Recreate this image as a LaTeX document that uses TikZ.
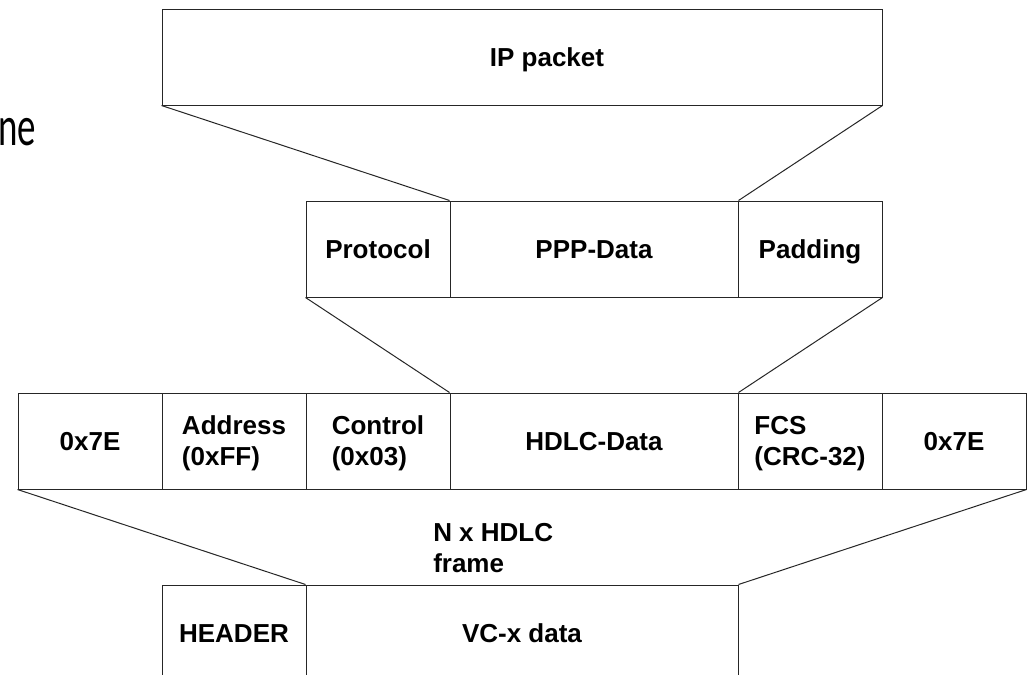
\documentclass[tikz,border=0pt]{standalone}
\usepackage{fontspec}
\setmainfont{Liberation Sans}
\newfontfamily\slidefont{Carlito}[FakeStretch=0.66]

\begin{document}
\begin{tikzpicture}[x=0.75pt, y=-0.75pt,
  field/.style={draw=black!85, line width=0.75pt, inner sep=0pt,
                minimum height=72pt, font=\fieldfont, text depth=0pt},
  oneline/.style={text height=14pt},
  twoline/.style={align=left},
  narrow/.style={field, minimum width=108pt},
  wide/.style={field, minimum width=216pt},
  caption/.style={inner sep=0pt, font=\fieldfont, align=left},
  link/.style={draw=black!85, line width=0.75pt}]
\def\fieldfont{\fontsize{19.5pt}{23.3pt}\selectfont\bfseries}

% page area
\clip (0,0) rectangle (1033,675);
\fill[white] (0,0) rectangle (1033,675);

% leftover slide text
\node[anchor=base west, inner sep=0pt, font=\slidefont\fontsize{42pt}{48pt}\selectfont]
  (slidetext) at (-2,145) {ne};

% IP packet
\node[field, minimum width=540pt] (ip) at (522,57) {};
\node[caption, text height=14pt, text depth=0pt] (iptext) at (547,57) {IP packet};

% PPP frame
\node[narrow, oneline] (proto)   at (378,249) {Protocol};
\node[wide, oneline]   (pppdata) at (594,249) {PPP-Data};
\node[narrow, oneline] (padding) at (810,249) {Padding};

% HDLC frame
\node[narrow, oneline] (flagA) at (90,441)  {0x7E};
\node[narrow, twoline] (addr)  at (234,441) {Address\\(0xFF)};
\node[narrow, twoline] (ctrl)  at (378,441) {Control\\(0x03)};
\node[wide, oneline]   (hdlc)  at (594,441) {HDLC-Data};
\node[narrow, twoline] (fcs)   at (810,441) {FCS\\(CRC-32)};
\node[narrow, oneline] (flagB) at (954,441) {0x7E};

% VC container
\node[narrow, oneline] (header) at (234,633) {HEADER};
\node[field, oneline, minimum width=324pt] (vcdata) at (522,633) {VC-x data};

\node[caption, anchor=north west] (nframes) at (433,523) {N x HDLC\\frame};

% encapsulation fans
\draw[link] (ip.south west) -- (pppdata.north west);
\draw[link] (ip.south east) -- (pppdata.north east);
\draw[link] (proto.south west) -- (hdlc.north west);
\draw[link] (padding.south east) -- (hdlc.north east);
\draw[link] (flagA.south west) -- (vcdata.north west);
\draw[link] (flagB.south east) -- (vcdata.north east);
\end{tikzpicture}
\end{document}
